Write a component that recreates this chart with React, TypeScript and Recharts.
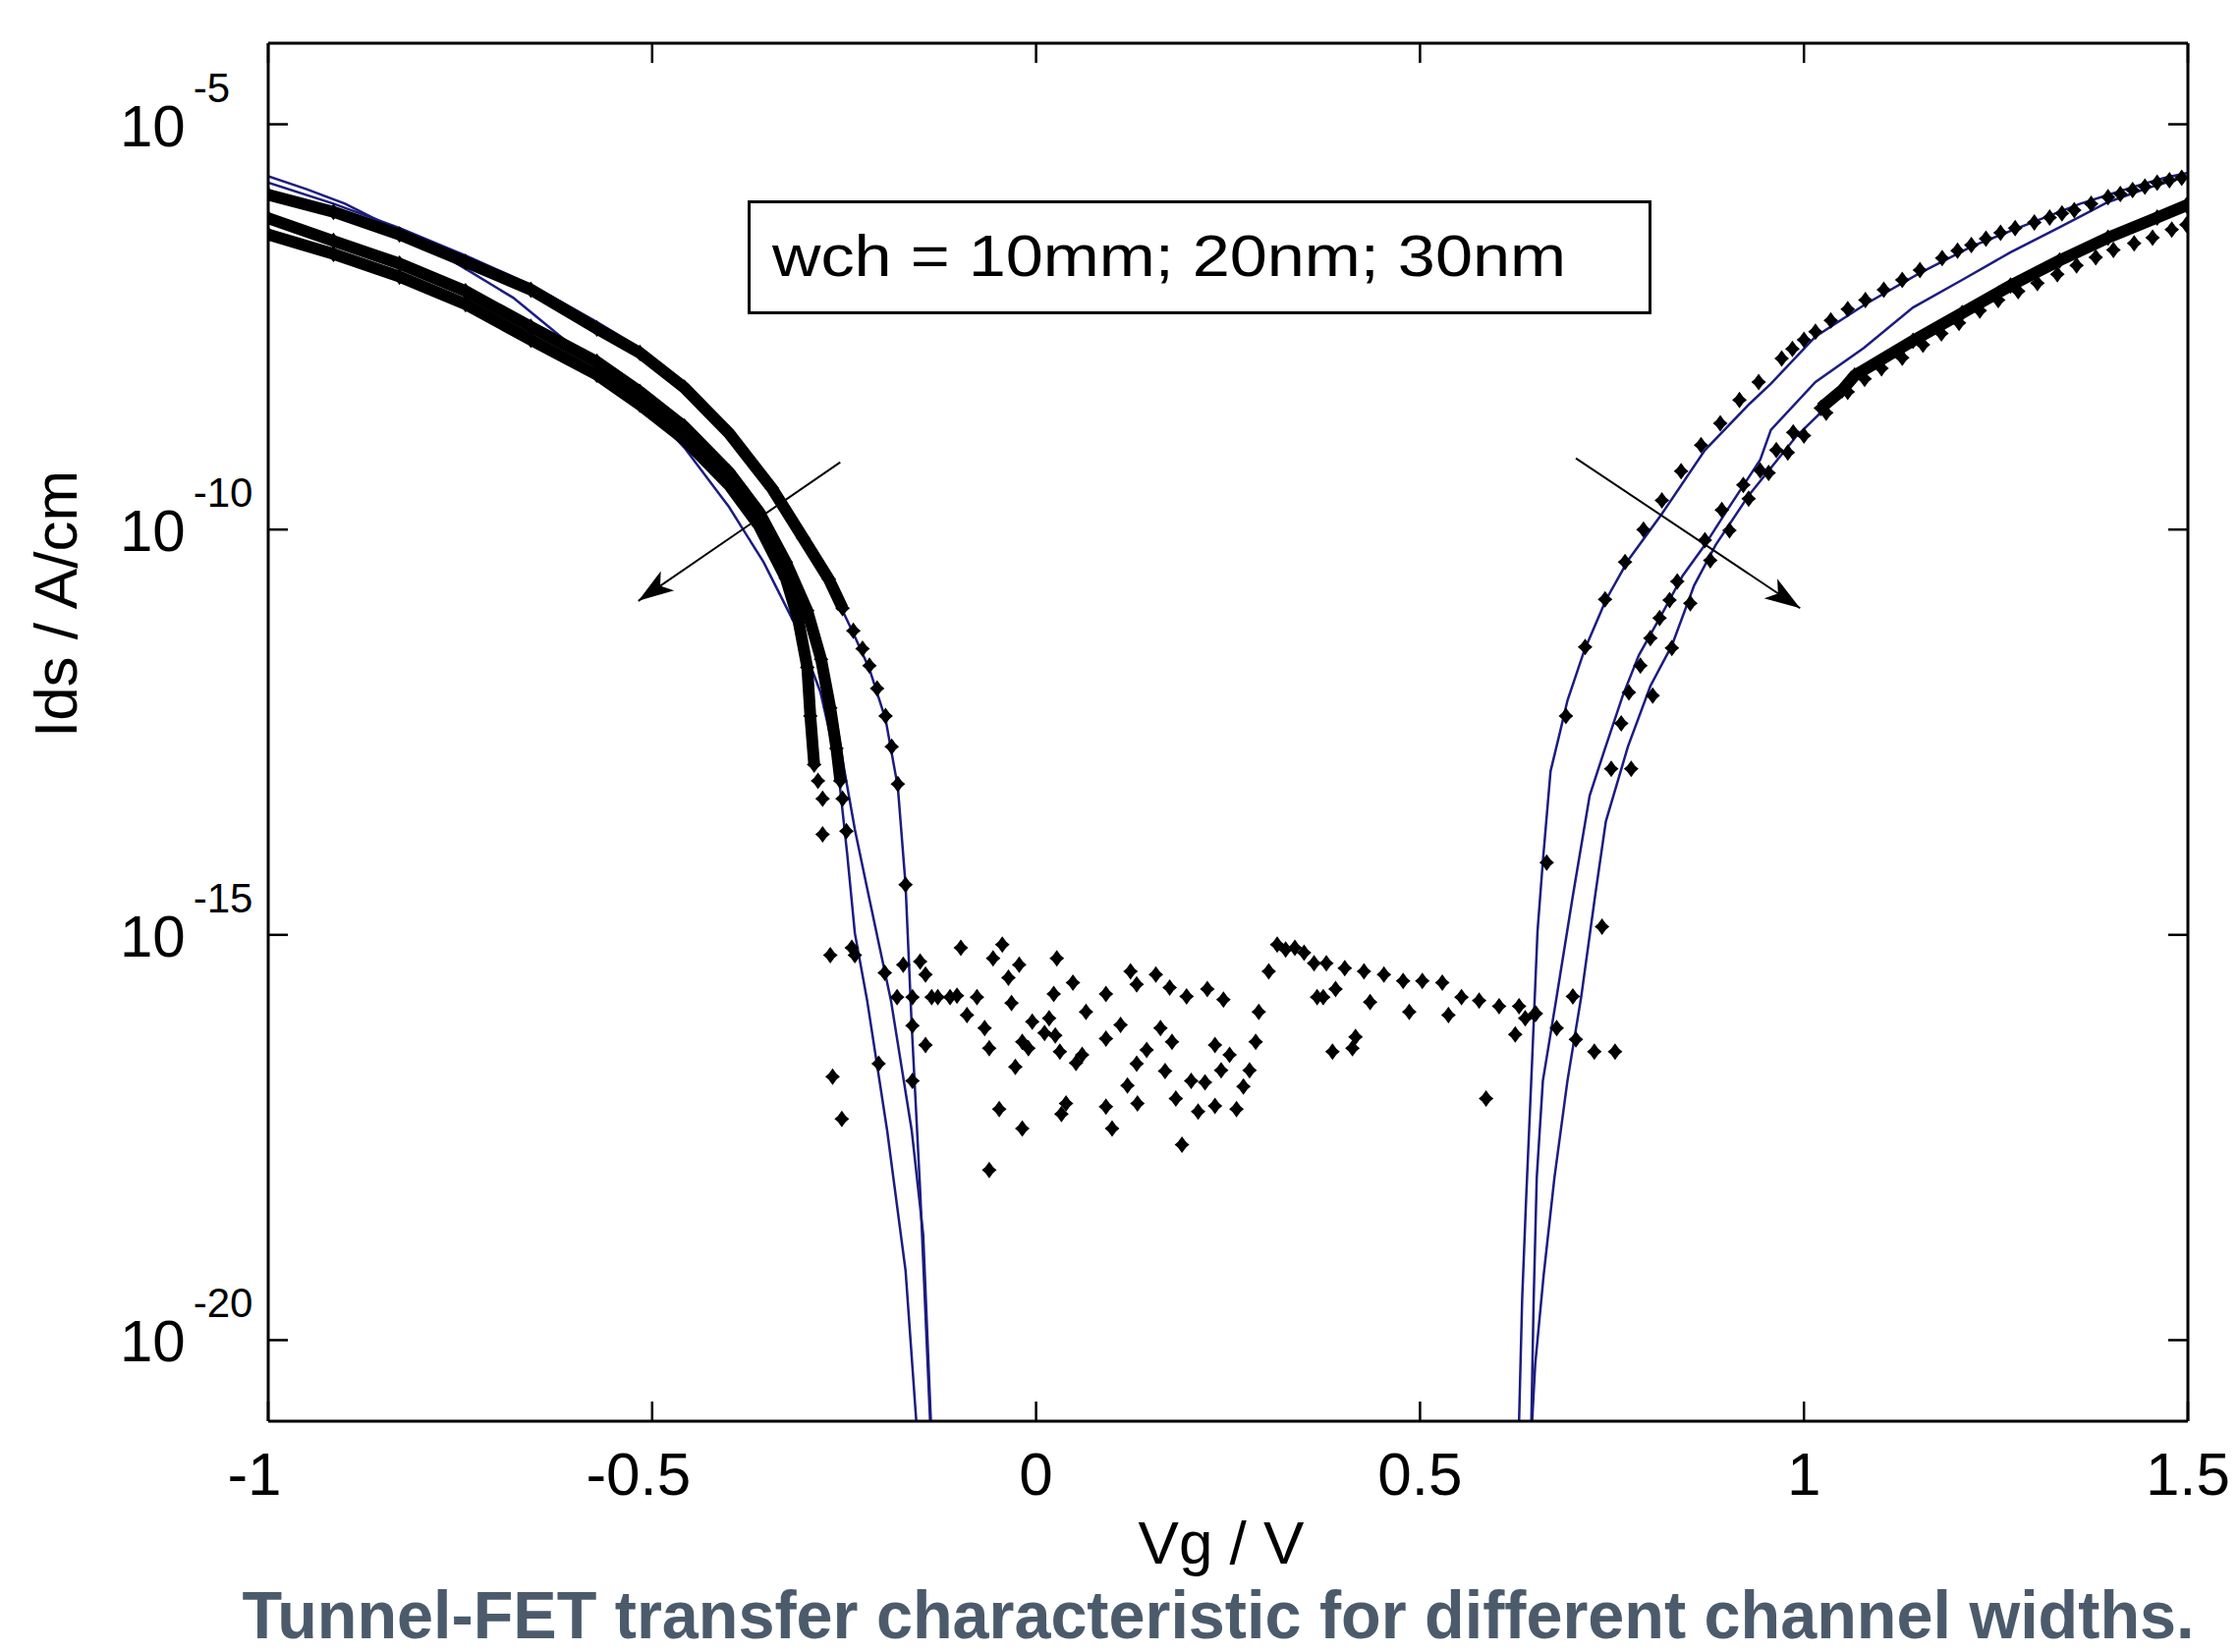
import React from "react";
import { ComposedChart, Label, Line, Scatter, XAxis, YAxis } from "recharts";

const W = 2278;
const H = 1682;
const FONT = '"Liberation Sans", Arial, Helvetica, sans-serif';
const NAVY = "#1c1c80";

// every point: [Vg in V, log10(Ids in A/cm)]
type Pt = [number, number];

const X_TICKS = [-1, -0.5, 0, 0.5, 1, 1.5];
const Y_TICKS = [1e-20, 1e-15, 1e-10, 1e-5];

// simulated curves (blue lines), left and right branch of each width
const simLeftA: Pt[] = [
  [-1.0, -5.72], [-0.915, -5.98], [-0.829, -6.28], [-0.743, -6.62], [-0.658, -6.98],
  [-0.572, -7.44], [-0.516, -7.76], [-0.458, -8.2], [-0.4, -8.78], [-0.344, -9.48],
  [-0.303, -10.12], [-0.27, -10.64], [-0.252, -11.0], [-0.238, -11.28], [-0.217, -11.72],
  [-0.196, -12.34], [-0.18, -13.18], [-0.17, -14.38], [-0.162, -16.11], [-0.151, -18.15],
  [-0.138, -21],
];
const simLeftB: Pt[] = [
  [-1.0, -5.64], [-0.95, -5.8], [-0.9, -5.98], [-0.85, -6.22], [-0.795, -6.49],
  [-0.74, -6.8], [-0.681, -7.14], [-0.601, -7.76], [-0.516, -8.4], [-0.458, -8.99],
  [-0.4, -9.72], [-0.355, -10.4], [-0.315, -11.15], [-0.281, -12.0], [-0.258, -12.95],
  [-0.246, -14.0], [-0.236, -14.98], [-0.22, -15.81], [-0.194, -17.41], [-0.17, -19.14],
  [-0.156, -21],
];
const simLeftC: Pt[] = [
  [-1.0, -6.12], [-0.915, -6.4], [-0.829, -6.68], [-0.743, -7.02], [-0.658, -7.46],
  [-0.572, -7.9], [-0.516, -8.28], [-0.458, -8.72], [-0.4, -9.28], [-0.361, -9.76],
  [-0.326, -10.38], [-0.298, -11.04], [-0.275, -11.7], [-0.261, -12.3], [-0.25, -12.95],
  [-0.236, -13.7], [-0.221, -14.38], [-0.205, -15.1], [-0.189, -15.81], [-0.162, -17.41],
  [-0.147, -18.7], [-0.137, -21],
];
const simRightA: Pt[] = [
  [0.629, -21], [0.633, -19.5], [0.638, -18.3], [0.646, -16.55], [0.653, -14.96],
  [0.66, -14.09], [0.67, -12.98], [0.681, -12.55], [0.692, -12.11], [0.714, -11.49],
  [0.742, -10.87], [0.771, -10.38], [0.814, -9.82], [0.871, -9.02], [0.929, -8.45],
  [0.957, -8.2], [1.015, -7.62], [1.08, -7.22], [1.15, -6.84], [1.22, -6.5],
  [1.3, -6.2], [1.36, -5.98], [1.4, -5.86], [1.44, -5.74], [1.47, -5.66], [1.5, -5.6],
];
const simRightB: Pt[] = [
  [0.645, -21], [0.648, -19.5], [0.652, -18.0], [0.66, -16.8], [0.678, -15.76],
  [0.699, -14.52], [0.721, -13.28], [0.742, -12.67], [0.764, -12.05], [0.785, -11.55],
  [0.814, -11.06], [0.842, -10.57], [0.871, -10.19], [0.9, -9.76], [0.943, -9.14],
  [0.957, -8.77], [1.015, -8.18], [1.078, -7.76], [1.142, -7.26], [1.206, -6.92],
  [1.269, -6.58], [1.333, -6.27], [1.396, -5.96], [1.45, -5.78], [1.5, -5.64],
];
const simRightC: Pt[] = [
  [0.646, -21], [0.65, -20.3], [0.661, -19.2], [0.675, -18.0], [0.692, -16.8],
  [0.71, -15.76], [0.728, -14.52], [0.742, -13.6], [0.771, -12.67], [0.8, -11.93],
  [0.828, -11.43], [0.857, -10.69], [0.885, -10.19], [0.928, -9.58], [0.99, -8.85],
  [1.066, -8.15], [1.142, -7.72], [1.206, -7.36], [1.269, -7.02], [1.333, -6.7],
  [1.396, -6.42], [1.46, -6.17], [1.5, -6.02],
];

// measured points (black diamonds); "dense" parts are packed so tightly they form a band
const measLeft1Dense: Pt[] = [
  [-1.0, -5.87], [-0.915, -6.08], [-0.829, -6.36], [-0.743, -6.7], [-0.658, -7.04],
  [-0.572, -7.52], [-0.516, -7.82], [-0.458, -8.25], [-0.4, -8.81], [-0.344, -9.49],
  [-0.303, -10.11], [-0.27, -10.61], [-0.252, -10.97],
];
const measLeft1Tail: Pt[] = [
  [-0.238, -11.25], [-0.226, -11.47], [-0.217, -11.68], [-0.207, -11.96], [-0.196, -12.3],
  [-0.188, -12.68], [-0.18, -13.14], [-0.17, -14.38],
];
const measLeft2Dense: Pt[] = [
  [-1.0, -6.16], [-0.915, -6.44], [-0.829, -6.72], [-0.743, -7.06], [-0.658, -7.5],
  [-0.572, -7.93], [-0.516, -8.3], [-0.458, -8.73], [-0.4, -9.29], [-0.361, -9.78],
  [-0.326, -10.4], [-0.298, -11.0], [-0.28, -11.6], [-0.268, -12.2], [-0.26, -12.7],
  [-0.255, -13.1],
];
const measLeft2Tail: Pt[] = [[-0.252, -13.32], [-0.247, -13.72]];
const measLeft3Dense: Pt[] = [
  [-1.0, -6.36], [-0.915, -6.6], [-0.829, -6.88], [-0.743, -7.22], [-0.658, -7.66],
  [-0.572, -8.09], [-0.516, -8.46], [-0.458, -8.89], [-0.4, -9.45], [-0.361, -9.95],
  [-0.326, -10.6], [-0.31, -11.1], [-0.298, -11.7], [-0.294, -12.3], [-0.289, -12.9],
];
const measLeft3Tail: Pt[] = [[-0.284, -13.1], [-0.278, -13.32], [-0.278, -13.76]];

const measRight1: Pt[] = [
  [0.649, -15.98], [0.665, -14.11], [0.69, -12.3], [0.715, -11.45], [0.741, -10.86],
  [0.767, -10.4], [0.791, -10.0], [0.815, -9.64], [0.84, -9.28], [0.866, -8.96],
  [0.891, -8.69], [0.916, -8.4], [0.941, -8.18], [0.971, -7.89], [0.985, -7.77],
  [1.0, -7.66], [1.015, -7.56], [1.035, -7.42], [1.057, -7.28], [1.08, -7.17],
  [1.104, -7.04], [1.128, -6.92], [1.151, -6.8], [1.18, -6.65], [1.2, -6.56],
  [1.218, -6.49], [1.237, -6.41], [1.256, -6.34], [1.275, -6.28], [1.3, -6.21],
  [1.32, -6.15], [1.336, -6.1], [1.352, -6.06], [1.374, -5.98], [1.396, -5.9],
  [1.412, -5.86], [1.428, -5.81], [1.444, -5.77], [1.46, -5.72], [1.476, -5.69],
  [1.492, -5.66],
];
const measRight2Tail: Pt[] = [
  [0.699, -15.76], [0.749, -12.95], [0.762, -12.39], [0.772, -12.01], [0.787, -11.68],
  [0.8, -11.34], [0.812, -11.09], [0.825, -10.87], [0.835, -10.64], [0.871, -10.13],
  [0.893, -9.76], [0.921, -9.45], [0.943, -9.27], [0.964, -9.02], [0.986, -8.8],
];
const measRight2Dense: Pt[] = [
  [1.022, -8.5], [1.05, -8.28], [1.066, -8.1], [1.142, -7.67], [1.206, -7.33],
  [1.269, -6.99], [1.333, -6.68], [1.396, -6.4], [1.46, -6.15], [1.498, -6.0],
];
const measRight3: Pt[] = [
  [0.703, -16.29], [0.737, -14.9], [0.775, -12.95], [0.803, -12.05], [0.828, -11.46],
  [0.852, -10.91], [0.878, -10.38], [0.903, -10.01], [0.928, -9.62], [0.954, -9.3],
  [0.979, -9.05], [1.0, -8.84], [1.029, -8.56], [1.057, -8.3], [1.079, -8.14],
  [1.101, -8.01], [1.128, -7.88], [1.155, -7.72], [1.179, -7.58], [1.202, -7.45],
  [1.229, -7.3], [1.253, -7.17], [1.279, -7.06], [1.304, -6.96], [1.33, -6.85],
  [1.355, -6.74], [1.38, -6.64], [1.403, -6.55], [1.43, -6.47], [1.454, -6.4],
  [1.479, -6.3], [1.498, -6.24],
];

// noise floor of the measurement between the two branches
const measFloor: Pt[] = [
  [-0.268, -15.25], [-0.265, -16.75], [-0.253, -17.27], [-0.24, -15.16], [-0.236, -15.25],
  [-0.205, -16.59], [-0.197, -15.47], [-0.181, -15.77], [-0.173, -15.37], [-0.161, -15.77],
  [-0.161, -16.12], [-0.161, -16.8], [-0.151, -15.33], [-0.144, -15.49], [-0.144, -16.36],
  [-0.136, -15.77], [-0.128, -15.77], [-0.112, -15.77], [-0.103, -15.75], [-0.098, -15.16],
  [-0.09, -15.99], [-0.077, -15.77], [-0.067, -16.15], [-0.061, -16.4], [-0.061, -17.9],
  [-0.056, -15.29], [-0.048, -17.15], [-0.044, -15.12], [-0.036, -15.53], [-0.032, -15.84],
  [-0.027, -16.63], [-0.022, -15.37], [-0.018, -16.32], [-0.018, -17.39], [-0.01, -16.4],
  [-0.005, -16.07], [0.011, -16.21], [0.017, -16.03], [0.023, -15.73], [0.025, -16.24],
  [0.027, -15.29], [0.031, -16.44], [0.033, -17.21], [0.039, -17.08], [0.048, -15.59],
  [0.052, -16.58], [0.06, -16.48], [0.065, -15.95], [0.091, -15.73], [0.091, -16.28],
  [0.091, -17.12], [0.099, -17.39], [0.11, -16.11], [0.119, -16.86], [0.123, -15.45],
  [0.131, -15.61], [0.131, -16.59], [0.132, -17.08], [0.144, -16.42], [0.156, -15.49],
  [0.162, -16.15], [0.168, -16.68], [0.174, -15.65], [0.177, -16.32], [0.182, -17.02],
  [0.19, -17.59], [0.196, -15.76], [0.202, -16.8], [0.211, -17.18], [0.22, -16.82],
  [0.223, -15.67], [0.233, -16.36], [0.233, -17.11], [0.241, -16.67], [0.244, -15.8],
  [0.252, -16.48], [0.261, -17.15], [0.27, -16.87], [0.278, -16.67], [0.286, -16.32],
  [0.29, -15.95], [0.303, -15.45], [0.314, -15.12], [0.325, -15.18], [0.337, -15.16],
  [0.349, -15.22], [0.362, -15.35], [0.366, -15.77], [0.374, -15.77], [0.378, -15.35],
  [0.39, -15.67], [0.386, -16.44], [0.402, -15.41], [0.412, -16.4], [0.416, -16.26],
  [0.427, -15.45], [0.435, -15.83], [0.453, -15.49], [0.478, -15.57], [0.486, -15.95],
  [0.503, -15.57], [0.529, -15.59], [0.537, -15.99], [0.554, -15.77], [0.577, -15.81],
  [0.586, -17.02], [0.603, -15.88], [0.624, -16.23], [0.629, -15.88], [0.637, -16.03],
  [0.651, -15.97], [0.678, -16.15], [0.727, -16.44], [0.754, -16.44],
];

// the two "increasing width" arrows, tail -> head
const arrowLeft: Pt[] = [[-0.255, -9.17], [-0.518, -10.88]];
const arrowRight: Pt[] = [[0.703, -9.12], [0.995, -10.97]];

const LEGEND_TEXT = "wch = 10mm; 20nm; 30nm";
const CAPTION = "Tunnel-FET transfer characteristic for different channel widths.";

const rows = (pts: Pt[]) => pts.map(([x, e]) => ({ x, y: Math.pow(10, e) }));

function Diamond(props: any) {
  const { cx, cy } = props;
  if (cx == null || cy == null) return null;
  return (
    <path
      d="M0,-8.5 L4,-3 L7.5,0 L4,3 L0,8.5 L-4,3 L-7.5,0 L-4,-3 Z"
      transform={`translate(${cx},${cy})`}
      fill="#000"
    />
  );
}

function BottomTick({ x, y, payload }: any) {
  const v = payload.value as number;
  return (
    <g>
      <line x1={x} y1={y} x2={x} y2={y - 20} stroke="#000" strokeWidth={2.5} />
      <text x={v < 0 ? x - 14 : x} y={y + 75} textAnchor="middle" fontFamily={FONT} fontSize={62} fill="#000">
        {String(v)}
      </text>
    </g>
  );
}

function TopTick({ x, y }: any) {
  return <line x1={x} y1={y} x2={x} y2={y + 20} stroke="#000" strokeWidth={2.5} />;
}

function LeftTick({ x, y, payload }: any) {
  const exp = Math.round(Math.log10(payload.value));
  return (
    <g>
      <line x1={x} y1={y} x2={x + 20} y2={y} stroke="#000" strokeWidth={2.5} />
      <text x={x - 151} y={y + 22} fontFamily={FONT} fontSize={60} fill="#000">
        10
        <tspan dx={8} dy={-45} fontSize={42}>
          {exp}
        </tspan>
      </text>
    </g>
  );
}

function RightTick({ x, y }: any) {
  return <line x1={x} y1={y} x2={x - 20} y2={y} stroke="#000" strokeWidth={2.5} />;
}

const AXIS_LINE = { stroke: "#000", strokeWidth: 3 };

export default function App() {
  const simSeries = [simLeftA, simLeftB, simLeftC, simRightA, simRightB, simRightC];
  const denseSeries = [measLeft1Dense, measLeft2Dense, measLeft3Dense, measRight2Dense];
  const sparseSeries = [measLeft1Tail, measLeft2Tail, measLeft3Tail, measRight1, measRight2Tail, measRight3];

  return (
    <div style={{ position: "absolute", left: 0, top: 0, width: W, height: H, background: "#fff", overflow: "hidden" }}>
      <ComposedChart width={W} height={H} margin={{ top: 43, right: 50, bottom: 0, left: 0 }}>
        <defs>
          <marker
            id="arrowHead"
            viewBox="-40 -14 42 28"
            refX={0}
            refY={0}
            markerWidth={42}
            markerHeight={28}
            markerUnits="userSpaceOnUse"
            orient="auto"
          >
            <path d="M0,0 L-36,-12 L-27,0 L-36,12 Z" fill="#000" />
          </marker>
        </defs>

        <XAxis
          type="number"
          dataKey="x"
          domain={[-1, 1.5]}
          ticks={X_TICKS}
          interval={0}
          allowDataOverflow
          height={235}
          tickSize={0}
          tickMargin={0}
          tickLine={false}
          axisLine={AXIS_LINE}
          tick={BottomTick}
        >
          <Label
            content={({ viewBox }: any) => (
              <text
                x={viewBox.x + viewBox.width / 2 - 7}
                y={viewBox.y + 145}
                textAnchor="middle"
                fontFamily={FONT}
                fontSize={62}
                fill="#000"
              >
                Vg / V
              </text>
            )}
          />
        </XAxis>
        <XAxis
          xAxisId="top"
          orientation="top"
          type="number"
          dataKey="x"
          domain={[-1, 1.5]}
          ticks={X_TICKS}
          interval={0}
          allowDataOverflow
          height={1}
          tickSize={0}
          tickMargin={0}
          tickLine={false}
          axisLine={AXIS_LINE}
          tick={TopTick}
        />
        <YAxis
          type="number"
          dataKey="y"
          scale="log"
          domain={[1e-21, 1e-4]}
          ticks={Y_TICKS}
          interval={0}
          allowDataOverflow
          width={273}
          tickSize={0}
          tickMargin={0}
          tickLine={false}
          axisLine={AXIS_LINE}
          tick={LeftTick}
        >
          <Label
            content={({ viewBox }: any) => {
              const tx = viewBox.x + 78;
              const ty = viewBox.y + 571;
              return (
                <text
                  x={tx}
                  y={ty}
                  transform={`rotate(-90, ${tx}, ${ty})`}
                  textAnchor="middle"
                  fontFamily={FONT}
                  fontSize={62}
                  fill="#000"
                >
                  Ids / A/cm
                </text>
              );
            }}
          />
        </YAxis>
        <YAxis
          yAxisId="right"
          orientation="right"
          type="number"
          dataKey="y"
          scale="log"
          domain={[1e-21, 1e-4]}
          ticks={Y_TICKS}
          interval={0}
          allowDataOverflow
          width={1}
          tickSize={0}
          tickMargin={0}
          tickLine={false}
          axisLine={AXIS_LINE}
          tick={RightTick}
        />

        {denseSeries.map((s, i) => (
          <Scatter
            key={`dense-${i}`}
            data={rows(s)}
            dataKey="y"
            fill="#000"
            shape={Diamond}
            line={{ stroke: "#000", strokeWidth: 12 }}
            isAnimationActive={false}
          />
        ))}
        {sparseSeries.map((s, i) => (
          <Scatter
            key={`sparse-${i}`}
            data={rows(s)}
            dataKey="y"
            fill="#000"
            shape={Diamond}
            isAnimationActive={false}
          />
        ))}
        {/* the floor points sit on the mirrored (top/right) axes, which share the same domain */}
        <Scatter
          xAxisId="top"
          yAxisId="right"
          data={rows(measFloor)}
          dataKey="y"
          fill="#000"
          shape={Diamond}
          isAnimationActive={false}
        />

        {simSeries.map((s, i) => (
          <Line
            key={`sim-${i}`}
            data={rows(s)}
            dataKey="y"
            type="linear"
            stroke={NAVY}
            strokeWidth={2.5}
            dot={false}
            activeDot={false}
            isAnimationActive={false}
          />
        ))}

        {[arrowLeft, arrowRight].map((s, i) => (
          <Line
            key={`arrow-${i}`}
            xAxisId="top"
            yAxisId="right"
            data={rows(s)}
            dataKey="y"
            type="linear"
            stroke="#000"
            strokeWidth={2}
            dot={false}
            activeDot={false}
            markerEnd="url(#arrowHead)"
            isAnimationActive={false}
          />
        ))}
      </ComposedChart>

      <svg width={W} height={H} style={{ position: "absolute", left: 0, top: 0, pointerEvents: "none" }}>
        <rect x={762.5} y={205.5} width={917} height={113} fill="#fff" stroke="#000" strokeWidth={3} />
        <text
          x={786}
          y={281}
          fontFamily={FONT}
          fontSize={60}
          fill="#000"
          textLength={808}
          lengthAdjust="spacingAndGlyphs"
        >
          {LEGEND_TEXT}
        </text>
        <text
          x={1240}
          y={1668}
          textAnchor="middle"
          fontFamily={FONT}
          fontWeight="bold"
          fontSize={68}
          fill="#4b5b6b"
          textLength={1987}
          lengthAdjust="spacingAndGlyphs"
        >
          {CAPTION}
        </text>
      </svg>
    </div>
  );
}
